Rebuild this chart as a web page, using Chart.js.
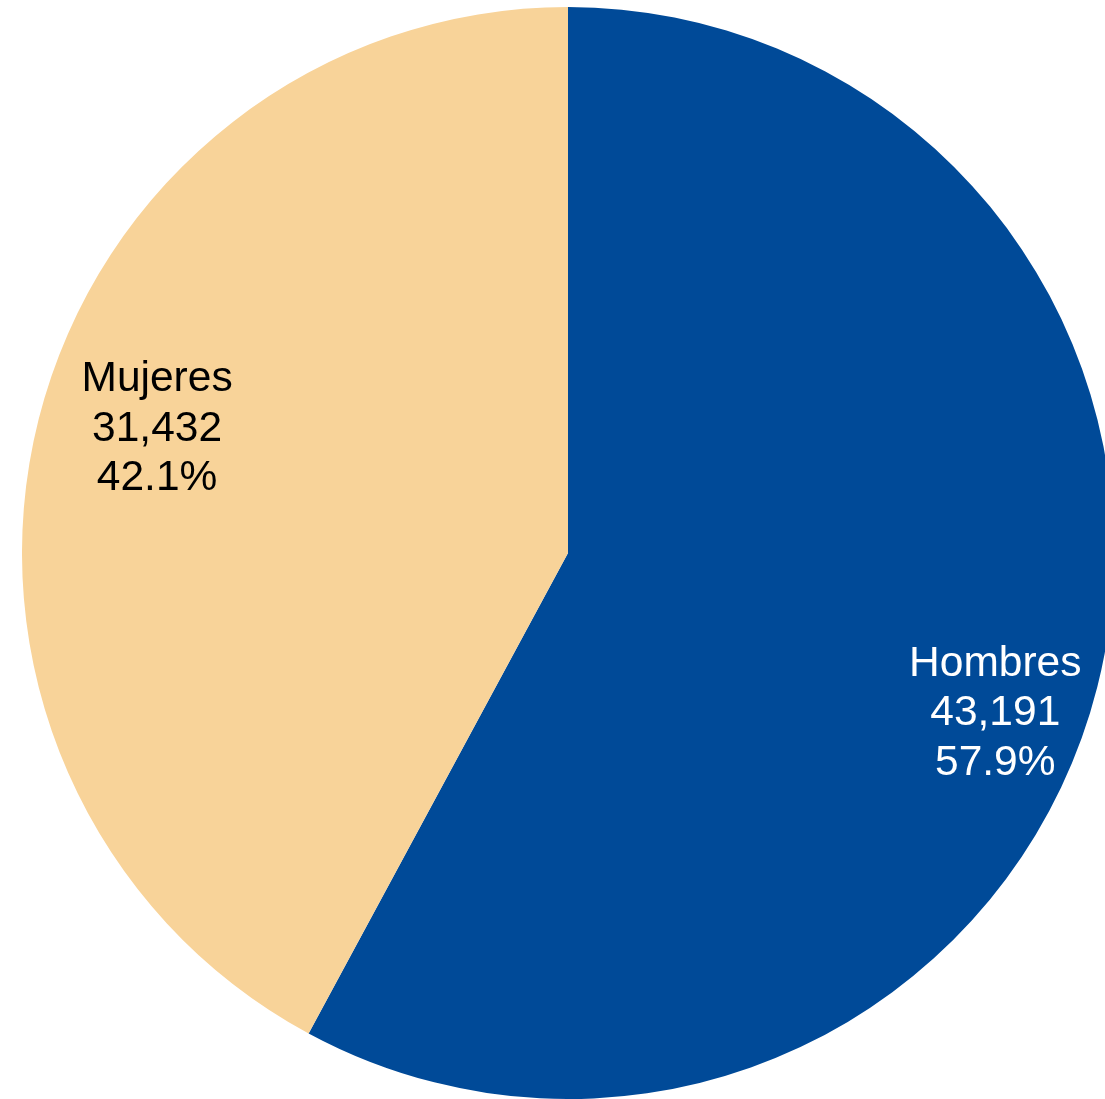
<!DOCTYPE html>
<html lang="es">
<head>
    <meta charset="UTF-8">
    <title>Hombres y Mujeres</title>
    <script src="https://cdn.jsdelivr.net/npm/chart.js"></script>
    <style>
        html, body { margin: 0; padding: 0; background: #fff; overflow: hidden; width: 1105px; height: 1099px; }
        #wrap { position: absolute; left: 22px; top: 7px; width: 1092px; height: 1092px; }
    </style>
</head>
<body>
    <div id="wrap"><canvas id="pieChart"></canvas></div>

    <script>
        const categories = ['Hombres', 'Mujeres'];
        const values = [43191, 31432];
        const percents = ['57.9%', '42.1%'];
        const colors = ['#004A98', '#F8D399'];
        const textColors = ['#ffffff', '#000000'];

        // etiquetas dentro de cada porcion
        const labelPlugin = {
            id: 'sliceLabels',
            afterDatasetsDraw(chart, args, opts) {
                const ctx = chart.ctx;
                const meta = chart.getDatasetMeta(0);
                ctx.save();
                ctx.font = '42.5px "Liberation Sans", Arial, sans-serif';
                ctx.textAlign = 'center';
                ctx.textBaseline = 'middle';
                meta.data.forEach((arc, i) => {
                    const p = arc.getProps(['x', 'y', 'startAngle', 'endAngle', 'outerRadius'], true);
                    const mid = (p.startAngle + p.endAngle) / 2 + opts.angleShift[i];
                    const r = p.outerRadius * opts.radial[i];
                    const x = p.x + Math.cos(mid) * r;
                    const y = p.y + Math.sin(mid) * r;
                    const lines = [categories[i], values[i].toLocaleString('en-US'), percents[i]];
                    ctx.fillStyle = textColors[i];
                    lines.forEach((t, k) => ctx.fillText(t, x, y + (k - 1) * 49.5));
                });
                ctx.restore();
            }
        };

        const ctx = document.getElementById('pieChart').getContext('2d');
        new Chart(ctx, {
            type: 'pie',
            data: {
                labels: categories,
                datasets: [{ data: values, backgroundColor: colors, borderWidth: 0 }]
            },
            options: {
                responsive: true,
                maintainAspectRatio: true,
                aspectRatio: 1,
                animation: false,
                layout: { padding: 0 },
                plugins: {
                    legend: { display: false },
                    tooltip: { enabled: false },
                    sliceLabels: { radial: [0.836, 0.786], angleShift: [0.112, 0.045] }
                }
            },
            plugins: [labelPlugin]
        });
    </script>
</body>
</html>
